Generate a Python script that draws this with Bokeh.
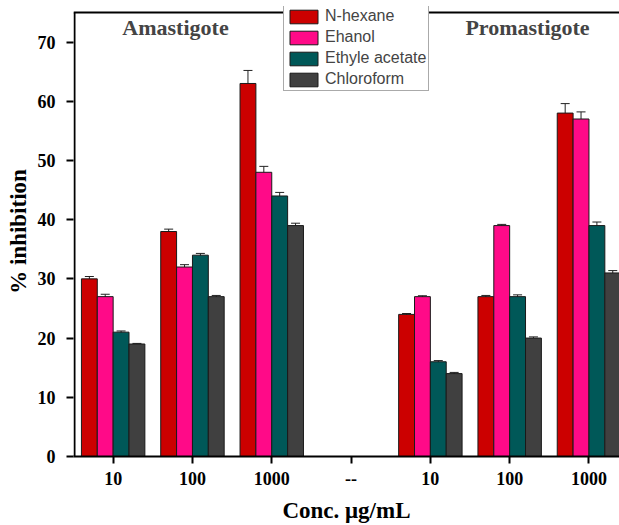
from bokeh.plotting import figure
from bokeh.models import ColumnDataSource, Whisker, TeeHead, Legend, LegendItem, Span, Label, Range1d, FixedTicker
from bokeh.embed import file_html
from bokeh.resources import INLINE

# ---- data ----
tick_labels = ["10", "100", "1000", "--", "10", "100", "1000"]
tick_pos = [1, 2, 3, 4, 5, 6, 7]
group_pos = [1, 2, 3, 5, 6, 7]          # "--" has no bars
series = ["N-hexane", "Ehanol", "Ethyle acetate", "Chloroform"]
nhexane = [30, 38, 63, 24, 27, 58]
ethanol = [27, 32, 48, 27, 39, 57]
ethyl_acetate = [21, 34, 44, 16, 27, 39]
chloroform = [19, 27, 39, 14, 20, 31]
err_nhexane = [0.4, 0.4, 2.2, 0.15, 0.2, 1.6]
err_ethanol = [0.4, 0.4, 1.0, 0.15, 0.2, 1.2]
err_ethyl = [0.2, 0.3, 0.6, 0.2, 0.3, 0.6]
err_chloro = [0.1, 0.2, 0.4, 0.2, 0.2, 0.4]
colors = ["#CC0000", "#FF0A88", "#005858", "#404040"]
y_top = 75

values = [nhexane, ethanol, ethyl_acetate, chloroform]
errors = [err_nhexane, err_ethanol, err_ethyl, err_chloro]
offsets = [-0.3, -0.1, 0.1, 0.3]
bar_w = 0.2
x_start, x_end = 0.5, 7.385

p = figure(width=619, height=525, output_backend="svg", toolbar_location=None,
           x_range=Range1d(x_start, x_end), y_range=Range1d(0, 76.0),
           min_border_left=73, min_border_top=6, min_border_bottom=69, min_border_right=0)
p.outline_line_color = None
p.grid.visible = False
p.background_fill_color = "white"

items = []
for name, vals, errs, off, col in zip(series, values, errors, offsets, colors):
    xs = [g + off for g in group_pos]
    src = ColumnDataSource(dict(x=xs, top=vals,
                                upper=[v + e for v, e in zip(vals, errs)],
                                lower=[v - e for v, e in zip(vals, errs)]))
    r = p.vbar(x="x", top="top", width=bar_w, bottom=0, source=src,
               fill_color=col, line_color="#1a1a1a", line_width=1)
    w = Whisker(base="x", upper="upper", lower="lower", source=src,
                line_color="#222222", line_width=1,
                upper_head=TeeHead(size=9, line_color="#222222", line_width=1),
                lower_head=TeeHead(size=9, line_color="#222222", line_width=1))
    p.add_layout(w)
    items.append(LegendItem(label=name, renderers=[r]))

# frame: top border and left border ending at the top border
p.add_layout(Span(location=y_top, dimension="width", line_color="black", line_width=2))
px_unit = (x_end - x_start) / 546.0
p.segment(x0=[x_start + px_unit], y0=[0], x1=[x_start + px_unit], y1=[y_top],
          line_color="black", line_width=2)

legend = Legend(items=items, location=(210, 365), orientation="vertical",
                glyph_width=35, glyph_height=17, spacing=3, padding=2, margin=0,
                label_text_font="Liberation Sans", label_text_font_size="16px",
                label_standoff=4, label_height=17,
                border_line_color="#555555", border_line_width=1,
                background_fill_alpha=1.0)
p.add_layout(legend, "center")

serif = "Liberation Serif"
# axes
p.xaxis.ticker = FixedTicker(ticks=tick_pos)
p.xaxis.major_label_overrides = {t: l for t, l in zip(tick_pos, tick_labels)}
p.xaxis.minor_tick_line_color = None
p.yaxis.ticker = FixedTicker(ticks=[0, 10, 20, 30, 40, 50, 60, 70])
p.yaxis.minor_tick_line_color = None
for ax in (p.xaxis, p.yaxis):
    ax.axis_line_width = 2
    ax.major_tick_line_width = 2
    ax.major_tick_out = 7
    ax.major_tick_in = 0
    ax.major_label_text_font = serif
    ax.major_label_text_font_style = "bold"
    ax.major_label_text_font_size = "18px"
    ax.major_label_text_color = "black"
    ax.axis_label_text_font = serif
    ax.axis_label_text_font_style = "bold"
    ax.axis_label_text_font_size = "23px"
    ax.axis_label_text_color = "black"
p.yaxis.axis_line_color = None
p.xaxis.major_label_standoff = 8
p.xaxis.axis_label_standoff = 10
p.yaxis.major_label_standoff = 11
p.yaxis.axis_label_standoff = 4
p.xaxis.axis_label = "Conc. \u03bcg/mL"
p.yaxis.axis_label = "% inhibition"

p.add_layout(Label(x=102, y=429, x_units="screen", y_units="screen", text="Amastigote",
                   text_font=serif, text_font_style="bold", text_font_size="22px",
                   text_align="center", text_baseline="middle"))
p.add_layout(Label(x=454, y=429, x_units="screen", y_units="screen", text="Promastigote",
                   text_font=serif, text_font_style="bold", text_font_size="22px",
                   text_align="center", text_baseline="middle"))

open("out.html", "w").write(file_html(p, INLINE))
